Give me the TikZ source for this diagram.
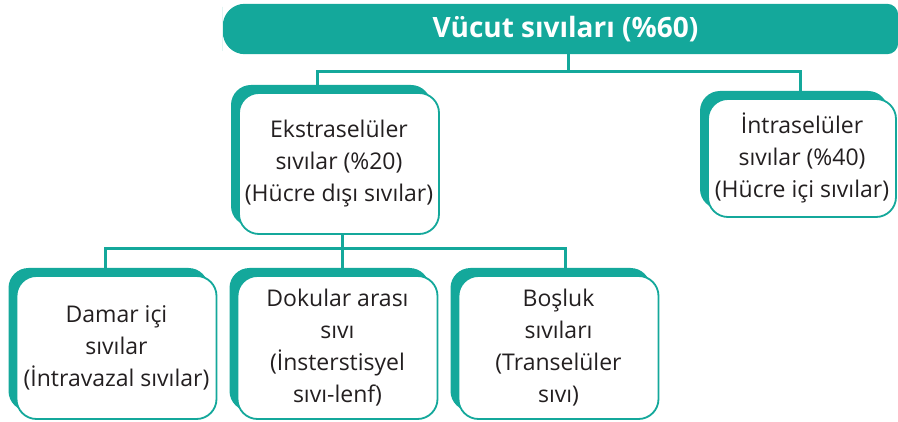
\documentclass[tikz,border=0pt]{standalone}
\usepackage{fontspec}
\setmainfont{Open Sans}
\usetikzlibrary{backgrounds,shadows}
\definecolor{tealc}{RGB}{20,168,155}
\definecolor{textc}{RGB}{35,31,32}
\begin{document}
\begin{tikzpicture}[x=1pt,y=-1pt,
  link/.style={draw=tealc,line width=3pt},
  fluid/.style={draw=tealc,line width=1.8pt,fill=white,rounded corners=20pt,
    minimum width=200pt,minimum height=143pt,inner sep=0pt,align=center,
    text=textc,font=\fontsize{23}{32}\selectfont,
    general shadow={fill=tealc,shadow xshift=-8pt,shadow yshift=8pt}}]
\useasboundingbox (0,0) rectangle (898,422);
\node[minimum width=665pt,minimum height=50pt,text=white,
  font=\fontsize{28}{34}\selectfont\bfseries] (title) at (565.5,29) {Vücut sıvıları (\%60)};
\node[fluid,minimum height=141pt] (ekstra) at (339,163.5) {Ekstraselüler\\sıvılar (\%20)\\(Hücre dışı sıvılar)};
\node[fluid,minimum width=188pt,minimum height=118pt] (intra) at (802,158) {İntraselüler\\sıvılar (\%40)\\(Hücre içi sıvılar)};
\node[fluid] (damar) at (116.5,347.5) {Damar içi\\sıvılar\\(İntravazal sıvılar)};
\node[fluid] (doku) at (337.5,347.5) {Dokular arası\\sıvı\\(İnsterstisyel\\sıvı-lenf)};
\node[fluid] (bosluk) at (558.5,347.5) {Boşluk\\sıvıları\\(Transelüler\\sıvı)};
\begin{scope}[on background layer]
\fill[tealc] (title.east) [rounded corners=11pt] |- (title.north)
  [rounded corners=22pt] -| ([xshift=-10pt]title.west) |- (title.south)
  [rounded corners=11pt] -| (title.east) -- cycle;
\draw[link] ([xshift=2.5pt]title.south) -- ++(0,17);
\draw[link] ([xshift=-22pt]ekstra.north) -- ++(0,-21) -| ([xshift=-2pt]intra.north);
\draw[link] ([xshift=3pt]ekstra.south) -- ([xshift=4.5pt]doku.north);
\draw[link] ([xshift=-11.5pt]damar.north) -- ++(0,-27) -| ([xshift=6.5pt]bosluk.north);
\end{scope}
\end{tikzpicture}
\end{document}
